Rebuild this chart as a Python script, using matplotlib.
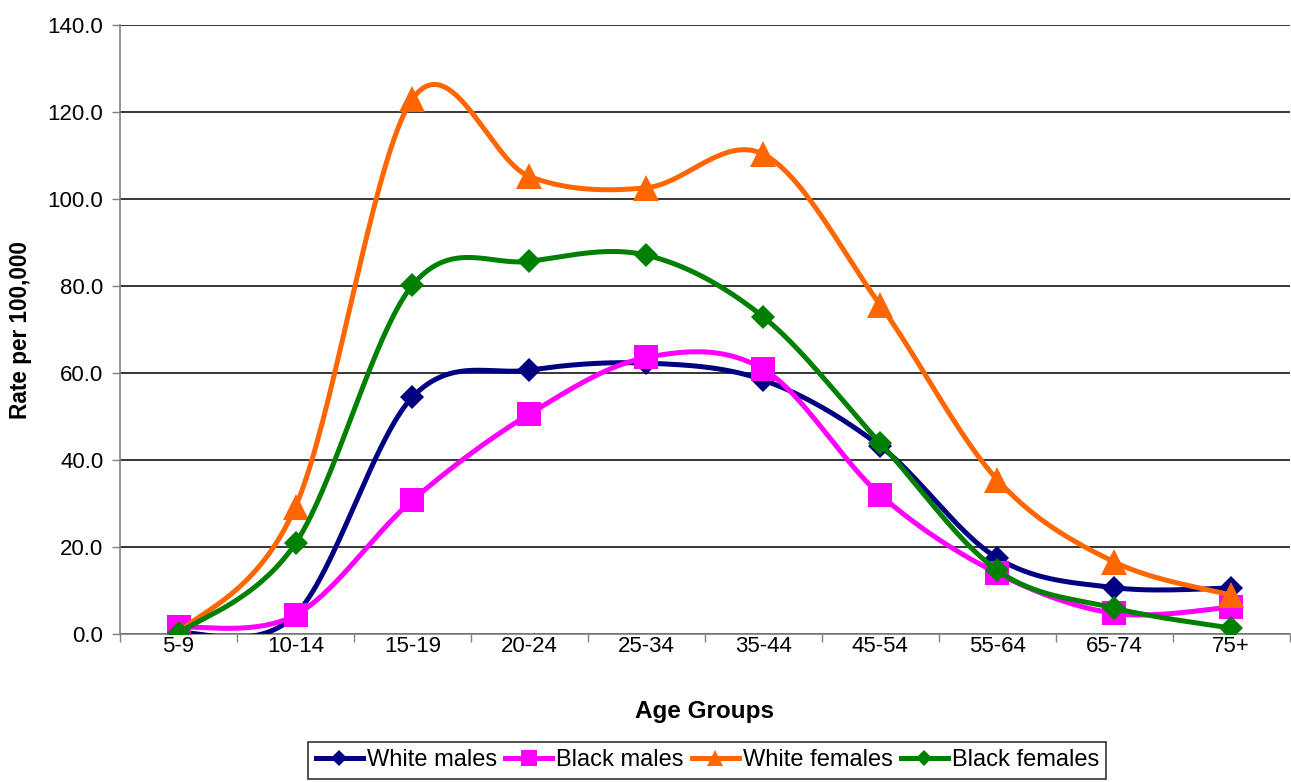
import numpy as np
import matplotlib
matplotlib.use("Agg")
import matplotlib.pyplot as plt

plt.rcParams['font.family'] = ['Liberation Sans', 'DejaVu Sans']

age_groups = ["5-9", "10-14", "15-19", "20-24", "25-34", "35-44",
              "45-54", "55-64", "65-74", "75+"]

white_males = [0.3, 4.5, 54.5, 60.7, 62.3, 58.4, 43.2, 17.5, 10.7, 10.6]
black_males = [1.6, 4.4, 30.8, 50.6, 63.6, 60.9, 32.0, 14.0, 4.8, 6.2]
white_females = [0.3, 29.3, 123.0, 105.2, 102.6, 110.3, 75.6, 35.5, 16.6, 9.0]
black_females = [0.2, 20.9, 80.2, 85.7, 87.1, 72.9, 43.9, 14.7, 6.0, 1.4]

series = [
    ("White males", white_males, "#000080", "D", 12.5),
    ("Black males", black_males, "#FF00FF", "s", 17.5),
    ("White females", white_females, "#FF6600", "^", 19),
    ("Black females", black_females, "#008000", "D", 12.5),
]


def smooth_curve(x, y, n=40):
    """Cubic Bezier smoothing through every point (Catmull-Rom control points)."""
    x = np.asarray(x, float)
    y = np.asarray(y, float)
    pts = np.column_stack([x, y])
    out = []
    m = len(pts)
    for i in range(m - 1):
        p0 = pts[i - 1] if i > 0 else pts[i]
        p1 = pts[i]
        p2 = pts[i + 1]
        p3 = pts[i + 2] if i + 2 < m else pts[i + 1]
        c1 = p1 + (p2 - p0) / 6.0
        c2 = p2 - (p3 - p1) / 6.0
        t = np.linspace(0, 1, n)[:, None]
        seg = ((1 - t) ** 3) * p1 + 3 * ((1 - t) ** 2) * t * c1 \
            + 3 * (1 - t) * t ** 2 * c2 + t ** 3 * p2
        if i > 0:
            seg = seg[1:]
        out.append(seg)
    curve = np.vstack(out)
    return curve[:, 0], curve[:, 1]


fig = plt.figure(figsize=(12.91, 7.82), dpi=100)
ax = fig.add_axes([0.093, 0.189, 0.906, 0.779])

xpos = np.arange(len(age_groups))
for z, (label, vals, color, marker, ms) in enumerate(series):
    cx, cy = smooth_curve(xpos, vals)
    ax.plot(cx, cy, color=color, lw=3.6, zorder=3 + z, solid_capstyle='round')
    ax.plot(xpos, vals, linestyle='none', marker=marker, markersize=ms,
            color=color, markeredgewidth=0, zorder=3 + z)
    # proxy handle for the legend
    ax.plot([], [], color=color, lw=3.6, marker=marker, markersize=ms * 0.62,
            markeredgewidth=0, label=label)

ax.set_xlim(-0.5, len(age_groups) - 0.5)
ax.set_ylim(0, 140)
ax.set_yticks(np.arange(0, 141, 20))
ax.set_yticklabels([f"{v:.1f}" for v in np.arange(0, 141, 20)], fontsize=16)
ax.set_xticks(xpos)
ax.set_xticklabels(age_groups, fontsize=16)
ax.set_xticks(np.arange(-0.5, len(age_groups), 1), minor=True)
ax.tick_params(axis='x', which='major', length=0, pad=1.5)
ax.tick_params(axis='x', which='minor', length=6, width=1, color='#808080')
ax.tick_params(axis='y', length=6, width=1, color='#808080', pad=6)

ax.grid(axis='y', color='black', lw=1.1, zorder=1)
for s in ['top', 'right']:
    ax.spines[s].set_visible(False)
ax.spines['left'].set_color('#808080')
ax.spines['bottom'].set_color('#808080')
ax.spines['left'].set_linewidth(1.2)
ax.spines['bottom'].set_linewidth(1.2)

ax.set_xlabel("Age Groups", fontsize=17.5, fontweight='bold')
ax.set_ylabel("Rate per 100,000", fontsize=16.3, fontweight='bold')
ax.yaxis.set_label_coords(-0.075, 0.5)
ax.xaxis.set_label_coords(0.5, -0.108)

handles, labels = ax.get_legend_handles_labels()
leg = fig.legend(handles[:4], labels[:4], loc='center', ncol=4,
                 bbox_to_anchor=(0.548, 0.0275), fontsize=17, frameon=True,
                 fancybox=False, edgecolor='black', handlelength=2.0,
                 handletextpad=0.17, columnspacing=0.34, borderpad=0.3,
                 borderaxespad=0)
leg.get_frame().set_linewidth(1.2)

fig.savefig("out.png", dpi=100)
